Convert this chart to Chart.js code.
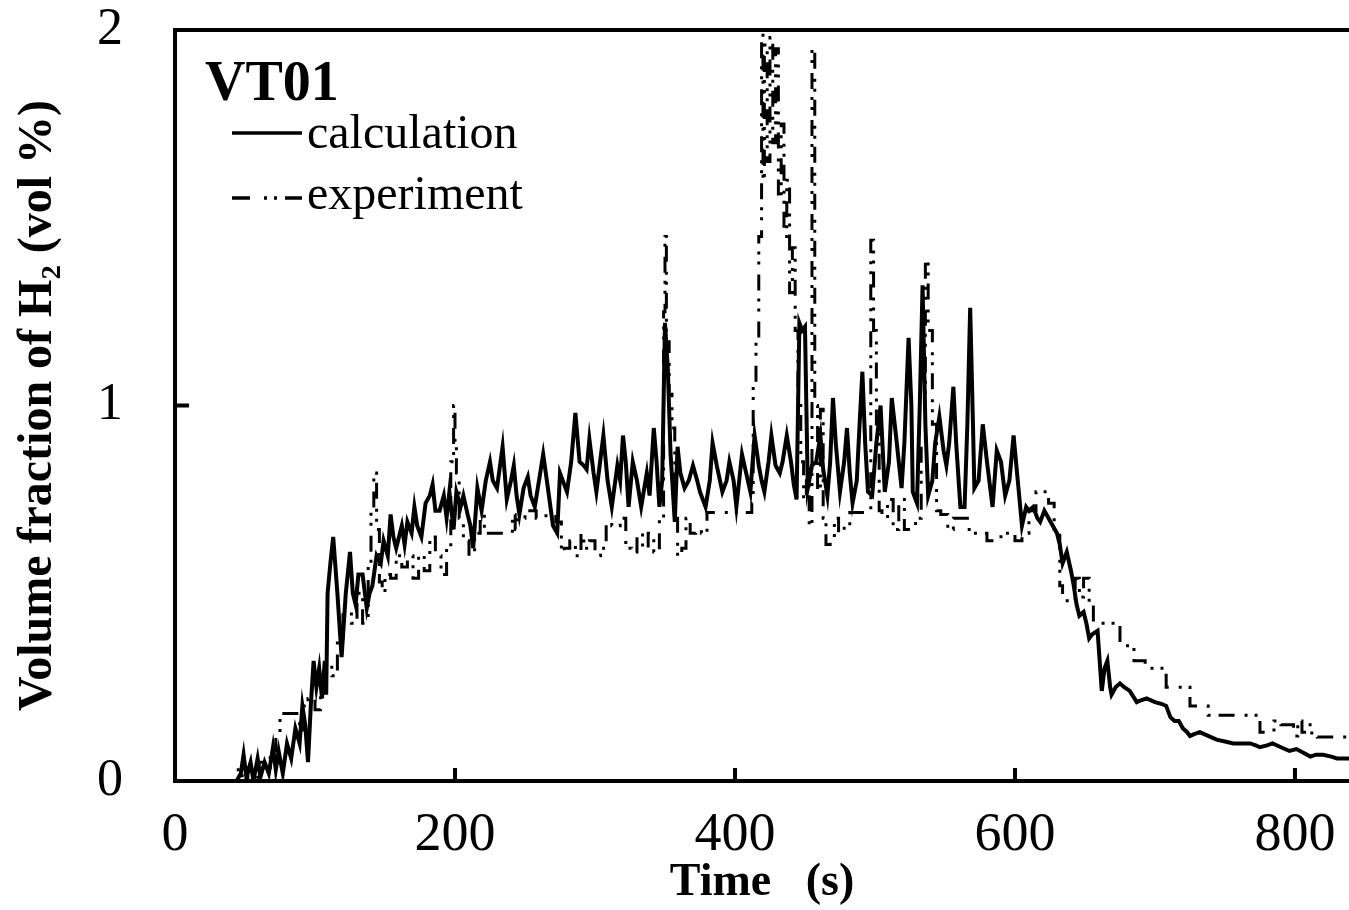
<!DOCTYPE html>
<html>
<head>
<meta charset="utf-8">
<script src="https://cdn.jsdelivr.net/npm/chart.js@4.4.0/dist/chart.umd.min.js"></script>
<style>
  body { margin: 0; background: #fff; }
</style>
</head>
<body>
<canvas id="grafico_vt01" width="1349" height="910"></canvas>
<script>
// calculation (s, vol %)
const calcTime = [0,44,47,49,51,54,56,59,61,64,67,70,72,74,77,80,83,86,89,91,93,95,97,99,101,103,105,107,108,109,111,113,116,119,122,125,127,129,131,134,137,139,141,144,147,149,152,154,156,158,162,164,166,169,171,173,176,179,182,184,186,189,192,194,196,199,201,204,206,209,211,213,216,219,222,225,227,230,234,237,240,242,244,246,249,252,254,257,260,263,266,270,273,275,277,280,283,286,289,292,294,296,299,301,306,309,312,316,318,320,322,324,327,330,333,337,339,342,344,346,348,350,352,354,357,359,361,364,367,370,373,375,379,382,384,387,391,394,396,399,401,403,405,408,411,414,417,419,421,424,426,429,432,434,437,440,442,444,446,448,450,452,455,458,461,463,466,468,470,472,475,478,480,482,484,487,489,491,493,495,498,501,504,507,510,512,515,519,521,524,526,527,530,532,534,536,538,541,543,546,549,551,553,556,558,561,564,566,568,570,571,574,577,580,584,587,590,593,596,599,602,605,608,610,613,616,618,621,624,627,630,632,634,637,640,642,644,646,649,651,653,655,659,662,664,666,668,669,672,675,678,682,687,690,694,700,705,708,711,714,717,720,723,725,728,732,738,744,750,756,762,768,772,775,780,784,790,796,801,806,811,815,820,826,830,835,840];
const calcValue = [0,0,0.02,0.07,0.01,0.05,0.0,0.06,0.01,0.05,0.02,0.09,0.03,0.08,0.02,0.1,0.06,0.14,0.1,0.2,0.15,0.05,0.2,0.32,0.25,0.3,0.22,0.32,0.23,0.5,0.58,0.65,0.5,0.33,0.5,0.61,0.5,0.47,0.55,0.55,0.46,0.5,0.52,0.6,0.58,0.64,0.6,0.71,0.65,0.62,0.68,0.63,0.69,0.66,0.73,0.68,0.65,0.74,0.76,0.79,0.72,0.72,0.76,0.7,0.77,0.67,0.77,0.73,0.76,0.71,0.68,0.62,0.78,0.72,0.8,0.85,0.8,0.78,0.89,0.75,0.8,0.84,0.76,0.71,0.78,0.81,0.76,0.73,0.8,0.87,0.79,0.68,0.66,0.82,0.8,0.77,0.85,0.98,0.85,0.84,0.83,0.91,0.82,0.77,0.92,0.8,0.73,0.84,0.8,0.92,0.85,0.73,0.85,0.8,0.73,0.82,0.76,0.94,0.85,0.73,0.8,1.22,1.1,0.87,0.69,0.89,0.82,0.78,0.8,0.84,0.8,0.77,0.73,0.8,0.9,0.84,0.77,0.8,0.85,0.8,0.73,0.8,0.87,0.82,0.77,0.92,0.84,0.8,0.77,0.85,0.92,0.84,0.82,0.85,0.92,0.85,0.79,0.75,1.22,1.2,1.21,0.78,0.84,0.85,0.92,0.83,0.76,0.85,1.02,0.9,0.77,0.85,0.94,0.82,0.74,0.8,0.95,1.09,0.9,0.77,0.76,0.9,1.0,0.77,0.85,1.02,0.92,0.78,0.9,1.18,1.0,0.77,0.74,1.0,1.32,0.95,0.76,0.8,0.9,0.97,0.88,0.84,0.9,1.05,0.9,0.73,0.73,0.95,1.26,0.95,0.78,0.8,0.95,0.85,0.73,0.88,0.85,0.76,0.8,0.92,0.8,0.68,0.73,0.72,0.73,0.7,0.69,0.72,0.7,0.68,0.66,0.63,0.58,0.61,0.56,0.52,0.47,0.44,0.45,0.42,0.38,0.39,0.4,0.24,0.3,0.32,0.25,0.23,0.25,0.26,0.25,0.24,0.21,0.215,0.22,0.21,0.205,0.2,0.17,0.16,0.16,0.14,0.13,0.12,0.125,0.13,0.12,0.11,0.105,0.1,0.1,0.1,0.095,0.09,0.095,0.1,0.09,0.08,0.085,0.075,0.065,0.07,0.07,0.065,0.06,0.06,0.06];

// experiment (s, vol %)
const expTime = [0,44,48,52,56,60,64,68,72,75,76,89,91,95,100,104,108,112,116,120,126,130,134,138,140,142,144,146,148,150,154,158,162,166,170,174,178,182,186,190,194,197,199,200,201,203,206,210,214,218,221,223,241,243,245,250,258,265,272,276,278,282,286,290,292,296,300,304,308,312,318,322,326,330,334,338,342,346,349,350,351,353,355,357,359,362,365,368,372,376,380,383,412,413,415,417,419,420,421,423,425,427,429,431,433,435,437,439,441,443,445,447,449,451,453,455,457,459,461,463,465,468,471,474,478,482,485,497,499,501,503,505,509,513,517,521,525,529,533,536,538,541,544,547,552,556,561,566,570,575,580,585,590,595,600,605,610,615,620,624,628,632,634,637,643,646,649,653,656,663,675,678,685,693,700,708,711,725,730,738,745,762,775,785,790,799,802,805,808,812,816,840];
const expValue = [0,0,0.03,0.0,0.04,0.01,0.05,0.03,0.08,0.12,0.18,0.18,0.12,0.2,0.22,0.19,0.25,0.31,0.28,0.38,0.45,0.42,0.5,0.42,0.57,0.72,0.82,0.67,0.53,0.5,0.55,0.54,0.6,0.57,0.6,0.54,0.6,0.56,0.65,0.6,0.55,0.62,0.85,1.0,0.9,0.82,0.7,0.64,0.6,0.66,0.71,0.66,0.66,0.71,0.67,0.7,0.72,0.7,0.72,0.69,0.61,0.62,0.64,0.6,0.66,0.62,0.64,0.6,0.62,0.69,0.68,0.7,0.62,0.61,0.66,0.62,0.66,0.61,0.7,1.25,1.45,1.17,1.03,0.94,0.71,0.6,0.62,0.7,0.66,0.67,0.66,0.715,0.715,0.74,1.05,1.17,1.45,1.99,1.6,1.96,1.65,1.98,1.7,1.95,1.55,1.75,1.45,1.6,1.3,1.42,1.2,1.0,0.85,0.75,0.82,0.68,1.95,1.0,0.77,0.99,0.7,0.63,0.65,0.7,0.66,0.68,0.715,0.715,1.44,1.2,0.93,0.72,0.7,0.75,0.67,0.75,0.67,0.67,0.7,0.9,1.39,1.2,0.95,0.72,0.71,0.67,0.7,0.7,0.67,0.66,0.66,0.64,0.64,0.66,0.66,0.64,0.66,0.72,0.77,0.77,0.74,0.67,0.52,0.48,0.48,0.54,0.49,0.54,0.47,0.42,0.42,0.36,0.36,0.32,0.3,0.3,0.25,0.25,0.2,0.2,0.175,0.175,0.175,0.13,0.16,0.15,0.12,0.16,0.13,0.15,0.12,0.117];

const xTicks = [0, 200, 400, 600, 800];
const yTicks = [0, 1, 2];

const serif = "'Liberation Serif', 'Times New Roman', serif";
const expDash = [16, 10, 3, 7, 3, 8];

// top frame, inward tick marks, VT01 label and legend
const moldura = {
    id: 'moldura',
    afterDraw(chart) {
        const ctx = chart.ctx;
        const area = chart.chartArea;
        const sx = chart.scales.x, sy = chart.scales.y;
        ctx.save();
        ctx.strokeStyle = '#000';
        ctx.lineWidth = 4;
        ctx.beginPath();
        ctx.moveTo(area.left - 2, area.top);
        ctx.lineTo(chart.width, area.top);
        ctx.stroke();
        xTicks.forEach(v => {
            if (v === 0) return;
            const px = sx.getPixelForValue(v);
            ctx.beginPath();
            ctx.moveTo(px, area.bottom);
            ctx.lineTo(px, area.bottom - 13);
            ctx.stroke();
        });
        yTicks.forEach(v => {
            if (v === 0 || v === 2) return;
            const py = sy.getPixelForValue(v);
            ctx.beginPath();
            ctx.moveTo(area.left, py);
            ctx.lineTo(area.left + 14, py);
            ctx.stroke();
        });

        ctx.fillStyle = '#000';
        ctx.textBaseline = 'alphabetic';
        ctx.textAlign = 'left';
        ctx.font = 'bold 56px ' + serif;
        ctx.fillText('VT01', area.left + 30, 100);

        ctx.font = '48px ' + serif;
        ctx.lineWidth = 3.5;
        ctx.beginPath();
        ctx.moveTo(232, 133);
        ctx.lineTo(302, 133);
        ctx.stroke();
        ctx.fillText('calculation', 307, 148);

        ctx.setLineDash([18, 14, 3, 7, 3, 8]);
        ctx.beginPath();
        ctx.moveTo(232, 198);
        ctx.lineTo(302, 198);
        ctx.stroke();
        ctx.setLineDash([]);
        ctx.fillText('experiment', 307, 209);
        ctx.restore();
    }
};

const config = {
    type: 'line',
    data: {
        datasets: [
            {
                label: 'calculation',
                data: calcTime.map((t, i) => ({ x: t, y: calcValue[i] })),
                borderColor: '#000',
                borderWidth: 4,
                pointRadius: 0,
                tension: 0,
                fill: false
            },
            {
                label: 'experiment',
                data: expTime.map((t, i) => ({ x: t, y: expValue[i] })),
                borderColor: '#000',
                borderWidth: 3,
                borderDash: expDash,
                pointRadius: 0,
                stepped: 'after',
                fill: false
            }
        ]
    },
    options: {
        responsive: false,
        animation: false,
        layout: { padding: { top: 30, right: 0, left: 0, bottom: 0 } },
        plugins: {
            legend: { display: false },
            tooltip: { enabled: false }
        },
        scales: {
            x: {
                type: 'linear',
                min: 0,
                max: 838.6,
                grid: { display: false, drawTicks: false },
                border: { display: true, color: '#000', width: 4 },
                ticks: {
                    maxRotation: 0,
                    autoSkip: false,
                    color: '#000',
                    padding: 22,
                    font: { family: serif, size: 54 }
                },
                title: {
                    display: true,
                    text: 'Time   (s)',
                    color: '#000',
                    padding: { top: 0, bottom: 4 },
                    font: { family: serif, size: 46, weight: 'bold', lineHeight: 1 }
                },
                afterBuildTicks(scale) { scale.ticks = xTicks.map(v => ({ value: v })); },
                afterFit(scale) {
                    scale.height = 129;
                    scale.paddingLeft = 0;
                    scale.paddingRight = 0;
                }
            },
            y: {
                type: 'linear',
                min: 0,
                max: 2,
                grid: { display: false, drawTicks: false },
                border: { display: true, color: '#000', width: 4 },
                ticks: {
                    autoSkip: false,
                    color: '#000',
                    padding: 52,
                    font: { family: serif, size: 52 }
                },
                title: {
                    display: true,
                    text: 'Volume fraction of H\u2082 (vol %)',
                    color: '#000',
                    padding: { top: 15, bottom: 0 },
                    font: { family: serif, size: 48, weight: 'bold', lineHeight: 1 }
                },
                afterBuildTicks(scale) { scale.ticks = yTicks.map(v => ({ value: v })); },
                afterFit(scale) {
                    scale.width = 175;
                    scale.paddingTop = 0;
                    scale.paddingBottom = 0;
                }
            }
        }
    },
    plugins: [moldura]
};

const ctx = document.getElementById('grafico_vt01').getContext('2d');
new Chart(ctx, config);
</script>
</body>
</html>
